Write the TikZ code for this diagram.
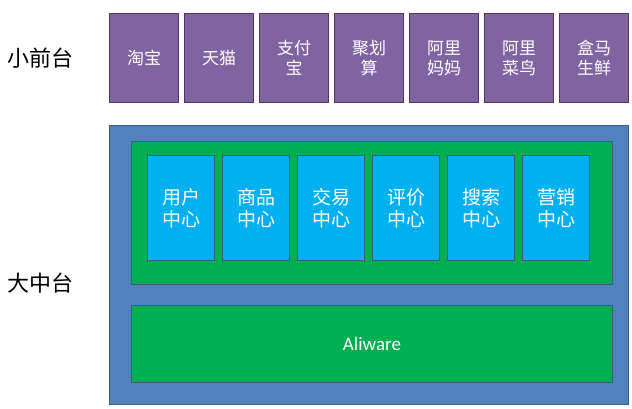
\documentclass[tikz,border=0pt]{standalone}
\usepackage{fontspec}
\newfontfamily\cjk{Noto Sans CJK SC}
\setmainfont{Carlito}
\begin{document}
\begin{tikzpicture}[x=1pt,y=-1pt,
  pbox/.style={draw=black!50!violet!60!gray,line width=1.5pt,fill=pur,text=white,font=\cjk\fontsize{17}{20}\selectfont,align=center,inner sep=0pt},
  cbox/.style={draw=bord,line width=1.5pt,fill=cyanb,text=white,font=\cjk\fontsize{19}{22}\selectfont,align=center,inner sep=0pt},
  lbl/.style={font=\cjk\fontsize{22}{26}\selectfont}]
\definecolor{pur}{HTML}{8064A2}
\definecolor{blu}{HTML}{4F81BD}
\definecolor{bord}{HTML}{385D8A}
\definecolor{grn}{HTML}{00B050}
\definecolor{cyanb}{HTML}{00B0F0}
\useasboundingbox (0,0) rectangle (632,408);
\node[lbl] (l1) at (40,58) {小前台};
\node[lbl] (l2) at (40,283) {大中台};
\foreach \t [count=\i] in {淘宝,天猫,支付\\宝,聚划\\算,阿里\\妈妈,阿里\\菜鸟,盒马\\生鲜}{
  \node[pbox,minimum width=69pt,minimum height=89pt] (p\i) at ({144+75*(\i-1)},58) {\t};
}
\node[draw=bord,line width=1.5pt,fill=blu,minimum width=519pt,minimum height=279pt] (big) at (369,265) {};
\node[draw=bord,line width=1.5pt,fill=grn,minimum width=481pt,minimum height=143pt] (g1) at (372,213) {};
\foreach \t [count=\i] in {用户\\中心,商品\\中心,交易\\中心,评价\\中心,搜索\\中心,营销\\中心}{
  \node[cbox,minimum width=67pt,minimum height=105pt] (c\i) at ({181+75*(\i-1)},208) {\t};
}
\node[draw=bord,line width=1.5pt,fill=grn,minimum width=481pt,minimum height=77pt,text=white,font=\fontsize{19}{22}\selectfont] (ali) at (372,344) {Aliware};
\end{tikzpicture}
\end{document}
